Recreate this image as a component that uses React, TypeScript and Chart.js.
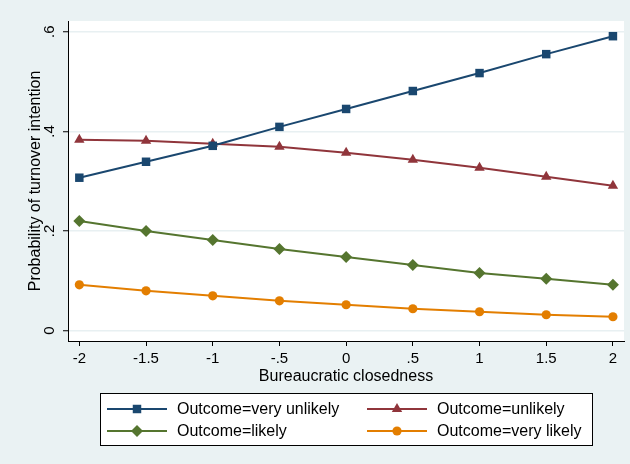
import React, { useEffect, useRef } from "react";
import { Chart, registerables } from "chart.js";

Chart.register(...registerables);

const xValues = [-2, -1.5, -1, -0.5, 0, 0.5, 1, 1.5, 2];
const xTickLabels = ["-2", "-1.5", "-1", "-.5", "0", ".5", "1", "1.5", "2"];
const yTickValues = [0, 0.2, 0.4, 0.6];
const yTickLabels = ["0", ".2", ".4", ".6"];

const veryUnlikely = [0.307, 0.339, 0.371, 0.409, 0.445, 0.481, 0.517, 0.555, 0.591];
const unlikely = [0.383, 0.381, 0.375, 0.369, 0.357, 0.343, 0.327, 0.309, 0.291];
const likely = [0.22, 0.2, 0.182, 0.164, 0.148, 0.132, 0.116, 0.104, 0.092];
const veryLikely = [0.092, 0.08, 0.07, 0.06, 0.052, 0.044, 0.038, 0.032, 0.028];

const seriesNames = [
  "Outcome=very unlikely",
  "Outcome=unlikely",
  "Outcome=likely",
  "Outcome=very likely",
];
const seriesColors = ["#1a476f", "#90353b", "#55752f", "#e37e00"];
const seriesMarkers = ["rect", "triangle", "rectRot", "circle"];
const seriesRadius = [6, 6, 6, 4.6];

const FONT = "'Liberation Sans', Arial, Helvetica, sans-serif";
const BG = "#eaf2f3";

function drawMarker(ctx: CanvasRenderingContext2D, style: string, x: number, y: number, r: number, color: string) {
  ctx.save();
  ctx.fillStyle = color;
  ctx.beginPath();
  if (style === "rect") {
    const s = Math.SQRT1_2 * r;
    ctx.rect(x - s, y - s, 2 * s, 2 * s);
  } else if (style === "rectRot") {
    ctx.moveTo(x, y - r);
    ctx.lineTo(x + r, y);
    ctx.lineTo(x, y + r);
    ctx.lineTo(x - r, y);
    ctx.closePath();
  } else if (style === "triangle") {
    let a = 0;
    ctx.moveTo(x + Math.sin(a) * r, y - Math.cos(a) * r);
    a += (2 * Math.PI) / 3;
    ctx.lineTo(x + Math.sin(a) * r, y - Math.cos(a) * r);
    a += (2 * Math.PI) / 3;
    ctx.lineTo(x + Math.sin(a) * r, y - Math.cos(a) * r);
    ctx.closePath();
  } else {
    ctx.arc(x, y, r, 0, Math.PI * 2);
  }
  ctx.fill();
  ctx.restore();
}

const decorPlugin = {
  id: "stataDecor",
  beforeDraw(chart: any) {
    const { ctx, chartArea, width, height } = chart;
    ctx.save();
    ctx.fillStyle = BG;
    ctx.fillRect(0, 0, width, height);
    ctx.fillStyle = "#ffffff";
    ctx.fillRect(chartArea.left, chartArea.top, chartArea.right - chartArea.left, chartArea.bottom - chartArea.top);
    ctx.restore();
  },
  afterDraw(chart: any) {
    const { ctx, chartArea } = chart;
    const yScale = chart.scales.y;
    ctx.save();
    ctx.fillStyle = "#000000";
    // y tick labels (rotated)
    ctx.font = `15px ${FONT}`;
    ctx.textAlign = "center";
    ctx.textBaseline = "alphabetic";
    yTickValues.forEach((v, i) => {
      const py = yScale.getPixelForValue(v);
      ctx.save();
      ctx.translate(54, py);
      ctx.rotate(-Math.PI / 2);
      ctx.fillText(yTickLabels[i], 0, 0);
      ctx.restore();
    });
    // y title
    ctx.font = `16px ${FONT}`;
    ctx.save();
    ctx.translate(40, (chartArea.top + chartArea.bottom) / 2);
    ctx.rotate(-Math.PI / 2);
    ctx.fillText("Probability of turnover intention", 0, 0);
    ctx.restore();

    // legend
    const bx = 100, by = 393, bw = 492, bh = 52;
    ctx.fillStyle = "#ffffff";
    ctx.fillRect(bx, by, bw, bh);
    ctx.strokeStyle = "#000000";
    ctx.lineWidth = 1;
    ctx.strokeRect(bx + 0.5, by + 0.5, bw, bh);
    const colX = [107, 367];
    const rowY = [409, 431];
    chart.data.datasets.forEach((ds: any, i: number) => {
      const cx = colX[i % 2];
      const cy = rowY[Math.floor(i / 2)];
      ctx.strokeStyle = ds.borderColor;
      ctx.lineWidth = 2;
      ctx.beginPath();
      ctx.moveTo(cx, cy);
      ctx.lineTo(cx + 60, cy);
      ctx.stroke();
      drawMarker(ctx, ds.pointStyle, cx + 30, cy, ds.pointRadius, ds.borderColor);
      ctx.fillStyle = "#000000";
      ctx.font = `16px ${FONT}`;
      ctx.textAlign = "left";
      ctx.textBaseline = "middle";
      ctx.fillText(ds.label, cx + 70, cy + 1);
    });
    ctx.restore();
  },
};

export default function App() {
  const ref = useRef<HTMLCanvasElement | null>(null);
  useEffect(() => {
    document.body.style.margin = "0";
    const seriesData = [veryUnlikely, unlikely, likely, veryLikely];
    const chart = new Chart(ref.current as HTMLCanvasElement, {
      type: "line",
      data: {
        datasets: seriesData.map((vals, i) => ({
          label: seriesNames[i],
          data: xValues.map((x, j) => ({ x, y: vals[j] })),
          borderColor: seriesColors[i],
          backgroundColor: seriesColors[i],
          pointBackgroundColor: seriesColors[i],
          pointBorderColor: seriesColors[i],
          pointBorderWidth: 0,
          pointStyle: seriesMarkers[i] as any,
          pointRadius: seriesRadius[i],
          borderWidth: 2,
          tension: 0,
          fill: false,
        })),
      },
      options: {
        animation: false,
        responsive: false,
        maintainAspectRatio: false,
        layout: { padding: { left: 0, right: 5, top: 21, bottom: 78 } },
        plugins: { legend: { display: false }, tooltip: { enabled: false } },
        scales: {
          x: {
            type: "linear",
            min: -2.085,
            max: 2.083,
            afterBuildTicks: (scale: any) => {
              scale.ticks = xValues.map((v) => ({ value: v }));
            },
            afterFit: (scale: any) => {
              scale.height = 45;
            },
            ticks: {
              autoSkip: false,
              maxRotation: 0,
              padding: 4,
              color: "#000000",
              font: { family: FONT, size: 15 },
              callback: (v: any) => {
                const idx = xValues.indexOf(Number(v));
                return idx >= 0 ? xTickLabels[idx] : "";
              },
            },
            grid: { drawOnChartArea: false, drawTicks: true, tickLength: 5, tickColor: "#000000", tickWidth: 1 },
            border: { display: true, color: "#000000", width: 1 },
            title: {
              display: true,
              text: "Bureaucratic closedness",
              color: "#000000",
              font: { family: FONT, size: 16 },
              padding: { top: 0, bottom: 0 },
            },
          },
          y: {
            type: "linear",
            min: -0.0207,
            max: 0.6215,
            afterBuildTicks: (scale: any) => {
              scale.ticks = yTickValues.map((v) => ({ value: v }));
            },
            afterFit: (scale: any) => {
              scale.width = 68;
            },
            ticks: { display: false },
            grid: {
              drawOnChartArea: true,
              color: "#e8f0f2",
              lineWidth: 1.5,
              drawTicks: true,
              tickLength: 5,
              tickColor: "#000000",
              tickWidth: 1,
            },
            border: { display: true, color: "#000000", width: 1 },
          },
        },
      },
      plugins: [decorPlugin],
    });
    return () => chart.destroy();
  }, []);
  return (
    <div style={{ width: 630, height: 464 }}>
      <canvas ref={ref} width={630} height={464} style={{ display: "block" }} />
    </div>
  );
}
